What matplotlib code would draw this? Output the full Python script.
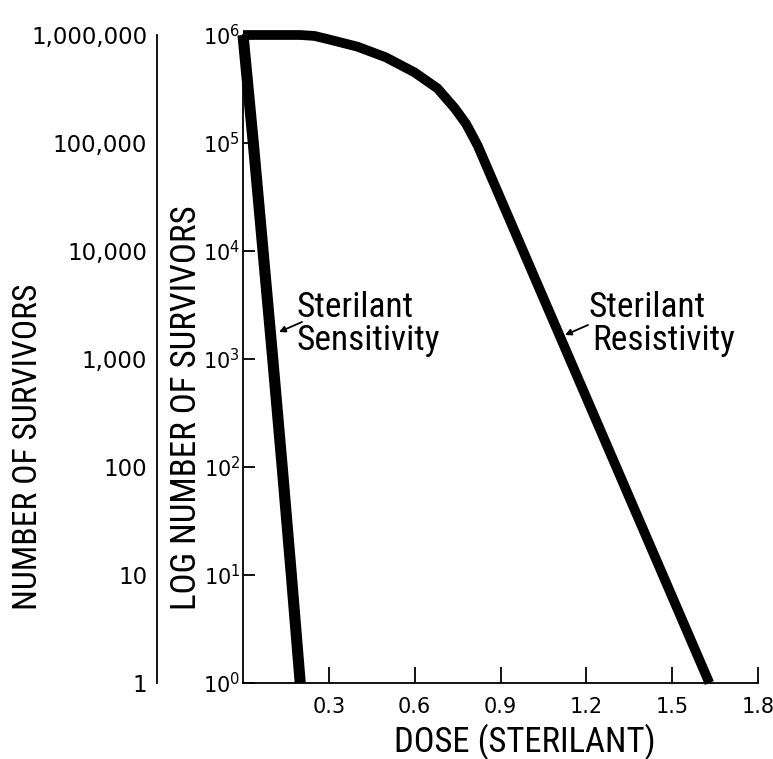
import matplotlib
matplotlib.use("Agg")
import matplotlib.pyplot as plt
from matplotlib import font_manager
from matplotlib.ticker import NullLocator

# ---- data -----------------------------------------------------------------
dose_ticks = [0.3, 0.6, 0.9, 1.2, 1.5, 1.8]
dose_tick_labels = ["0.3", "0.6", "0.9", "1.2", "1.5", "1.8"]

count_ticks = [1, 10, 100, 1000, 10000, 100000, 1000000]
count_labels = ["1", "10", "100", "1,000", "10,000", "100,000", "1,000,000"]
log_labels = [r"$10^{0}$", r"$10^{1}$", r"$10^{2}$", r"$10^{3}$",
              r"$10^{4}$", r"$10^{5}$", r"$10^{6}$"]

# sterilant-sensitive population
sens_dose = [0.0, 0.036, 0.070, 0.104, 0.137, 0.169, 0.200]
sens_survivors = [1e6, 1e5, 1e4, 1e3, 1e2, 1e1, 1]

# sterilant-resistant population
res_dose = [0.0, 0.20, 0.25, 0.30, 0.40, 0.50, 0.60, 0.68, 0.74, 0.78,
            0.82, 1.63]
res_survivors = [1e6, 1e6, 9.8e5, 9.1e5, 7.8e5, 6.2e5, 4.5e5, 3.2e5,
                 2.1e5, 1.5e5, 9.5e4, 1]

# ---- fonts ----------------------------------------------------------------
names = {f.name for f in font_manager.fontManager.ttflist}
if "Liberation Sans Narrow" in names:
    LETTER = dict(family="Liberation Sans Narrow")
elif "Roboto Condensed" in names:
    LETTER = dict(family="Roboto Condensed")
else:
    LETTER = dict(family="DejaVu Sans", stretch="condensed")

# ---- figure ---------------------------------------------------------------
W, H = 773, 759
fig = plt.figure(figsize=(W / 100, H / 100), dpi=100)


def fx(px):
    return px / W


def fy(py):
    return 1 - py / H


x0, x1, ytop, ybot = 243, 758, 35, 683
ax = fig.add_axes([fx(x0), fy(ybot), fx(x1) - fx(x0), fy(ytop) - fy(ybot)])
ax.set_yscale("log")
ax.set_xlim(0, 1.8)
ax.set_ylim(1, 1e6)

ax.plot(sens_dose, sens_survivors, color="black", lw=8,
        solid_capstyle="butt", solid_joinstyle="round", clip_on=False)
ax.plot(res_dose, res_survivors, color="black", lw=7,
        solid_capstyle="butt", solid_joinstyle="round", clip_on=False)

for s in ("top", "right"):
    ax.spines[s].set_visible(False)
for s in ("left", "bottom"):
    ax.spines[s].set_linewidth(1.3)

ax.set_xticks(dose_ticks, dose_tick_labels)
ax.set_yticks(count_ticks, log_labels)
ax.yaxis.set_minor_locator(NullLocator())
ax.xaxis.set_minor_locator(NullLocator())
ax.tick_params(axis="x", direction="in", length=11.5, width=1.3, pad=10,
               labelsize=15)
ax.tick_params(axis="y", direction="in", length=8.5, width=1.3, pad=2,
               labelsize=15)
ax.patch.set_visible(False)

# plain-number scale on the far left
ax2 = fig.add_axes([fx(157), fy(ybot), 0.0001, fy(ytop) - fy(ybot)])
ax2.set_yscale("log")
ax2.set_ylim(1, 1e6)
ax2.set_xticks([])
ax2.set_yticks(count_ticks, count_labels)
ax2.yaxis.set_minor_locator(NullLocator())
ax2.tick_params(axis="y", length=0, pad=7, labelsize=16.5)
for s in ("top", "right", "bottom"):
    ax2.spines[s].set_visible(False)
ax2.spines["left"].set_linewidth(1.3)
ax2.patch.set_visible(False)

# ---- lettering --------------------------------------------------------------
renderer = fig.canvas.get_renderer()


def fit(t, target, vertical=False):
    bb = t.get_window_extent(renderer=renderer)
    cur = bb.height if vertical else bb.width
    t.set_fontsize(t.get_fontsize() * target / cur)


t1 = fig.text(fx(28), fy(610), "NUMBER OF SURVIVORS", rotation=90,
              ha="center", va="bottom", fontsize=20, **LETTER)
fit(t1, 325, vertical=True)
t2 = fig.text(fx(186), fy(610), "LOG NUMBER OF SURVIVORS", rotation=90,
              ha="center", va="bottom", fontsize=20, **LETTER)
fit(t2, 405, vertical=True)
t3 = fig.text(fx(525), fy(752), "DOSE (STERILANT)", ha="center",
              va="baseline", fontsize=20, **LETTER)
fit(t3, 262)

probe = fig.text(0, 0, "Sensitivity", fontsize=20, **LETTER)
fit(probe, 143)
note_size = probe.get_fontsize()
probe.remove()

for txt, px, py in [("Sterilant", 297, 317), ("Sensitivity", 297, 350),
                    ("Sterilant", 588, 317), ("Resistivity", 592, 350)]:
    fig.text(fx(px), fy(py), txt, ha="left", va="baseline",
             fontsize=note_size, **LETTER)

for tail, tip in [((302, 322), (279, 332)), ((588, 325), (565, 335))]:
    fig.add_artist(matplotlib.patches.FancyArrowPatch(
        (fx(tail[0]), fy(tail[1])), (fx(tip[0]), fy(tip[1])),
        transform=fig.transFigure, arrowstyle="-|>", mutation_scale=9,
        color="black", lw=1.3, shrinkA=0, shrinkB=0))

fig.savefig("out.png", dpi=100)
